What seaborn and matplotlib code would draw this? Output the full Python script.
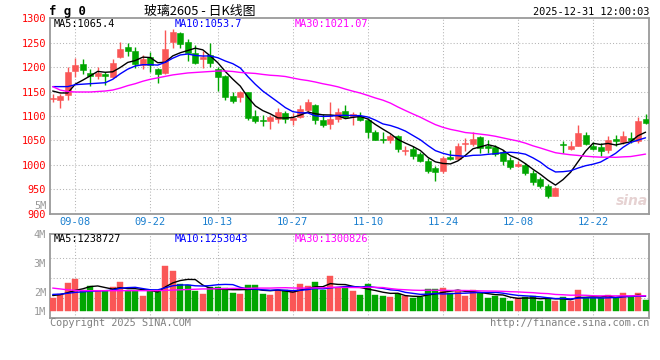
import numpy as np
import pandas as pd
import matplotlib
matplotlib.use("Agg")
import matplotlib.pyplot as plt
import seaborn as sns

# ---------------- data ----------------
opens = [1135, 1133, 1142, 1192, 1206, 1188, 1182, 1185, 1180, 1221,
         1241, 1233, 1204, 1221, 1196, 1187, 1252, 1269, 1252, 1228,
         1217, 1225, 1197, 1182, 1140, 1138, 1148, 1100, 1092, 1089,
         1094, 1106, 1091, 1098, 1113, 1123, 1092, 1084, 1094, 1110,
         1099, 1099, 1091, 1067, 1052, 1050, 1058, 1028, 1032, 1021,
         1008, 994, 988, 1016, 1012, 1043, 1043, 1057, 1039, 1036,
         1026, 1010, 997, 1000, 984, 971, 957, 936, 1043, 1033,
         1039, 1060, 1038, 1036, 1030, 1052, 1046, 1054, 1048, 1093]
highs = [1144, 1145, 1200, 1218, 1216, 1196, 1200, 1190, 1216, 1252,
         1250, 1242, 1225, 1231, 1198, 1277, 1278, 1271, 1258, 1245,
         1232, 1249, 1201, 1184, 1148, 1152, 1150, 1112, 1102, 1102,
         1116, 1110, 1106, 1123, 1135, 1124, 1104, 1128, 1117, 1123,
         1108, 1109, 1096, 1072, 1066, 1063, 1060, 1039, 1038, 1026,
         1014, 998, 1017, 1031, 1044, 1055, 1066, 1058, 1051, 1040,
         1030, 1015, 1008, 1003, 990, 975, 960, 954, 1048, 1048,
         1081, 1066, 1046, 1045, 1059, 1060, 1069, 1066, 1097, 1103]
lows = [1128, 1117, 1132, 1180, 1185, 1162, 1176, 1164, 1177, 1218,
        1223, 1199, 1196, 1190, 1168, 1185, 1240, 1240, 1213, 1207,
        1198, 1200, 1152, 1133, 1126, 1128, 1092, 1085, 1080, 1073,
        1085, 1085, 1082, 1095, 1109, 1084, 1077, 1074, 1087, 1095,
        1082, 1089, 1055, 1050, 1045, 1045, 1027, 1019, 1012, 1005,
        984, 966, 984, 1010, 1009, 1029, 1039, 1025, 1025, 1018,
        999, 991, 995, 978, 959, 952, 931, 935, 1023, 1030,
        1038, 1040, 1030, 1017, 1025, 1038, 1043, 1045, 1045, 1083]
closes = [1137, 1141, 1190, 1204, 1194, 1181, 1187, 1181, 1209, 1238,
          1233, 1206, 1216, 1205, 1185, 1238, 1271, 1248, 1228, 1209,
          1221, 1208, 1179, 1138, 1130, 1150, 1095, 1090, 1089, 1097,
          1109, 1093, 1096, 1114, 1128, 1091, 1082, 1094, 1107, 1098,
          1104, 1091, 1068, 1051, 1050, 1058, 1032, 1030, 1017, 1008,
          988, 986, 1014, 1012, 1039, 1045, 1053, 1034, 1034, 1021,
          1008, 995, 1002, 984, 964, 956, 935, 952, 1040, 1039,
          1064, 1043, 1033, 1028, 1050, 1048, 1059, 1050, 1090, 1086]

# moving-average values before enough bars exist in the window
ma5_head = [1151, 1147, 1147, 1165]
ma10_head = [1160, 1160, 1160, 1164, 1165, 1166, 1167, 1168, 1175]
ma30_head = [1160, 1153, 1150, 1149, 1149, 1149, 1150, 1151, 1153, 1157,
             1162, 1166, 1171, 1175, 1178, 1181, 1184, 1186, 1188, 1189,
             1190, 1191, 1192, 1192, 1191, 1189, 1188, 1187, 1185]

# volume in millions (on the chart's own volume axis)
volume = [1.80, 1.91, 2.30, 2.43, 2.08, 2.19, 2.02, 2.02, 2.16, 2.33,
          2.02, 2.02, 1.86, 2.02, 2.05, 2.89, 2.73, 2.27, 2.22, 2.02,
          1.93, 2.18, 2.16, 2.13, 1.97, 1.93, 2.22, 2.22, 1.93, 1.89,
          2.05, 2.05, 2.02, 2.27, 2.19, 2.33, 2.08, 2.56, 2.13, 2.16,
          2.02, 1.89, 2.27, 1.89, 1.86, 1.82, 1.91, 1.86, 1.78, 1.82,
          2.09, 2.09, 2.13, 1.97, 2.02, 1.86, 2.06, 1.97, 1.77, 1.85,
          1.80, 1.67, 1.78, 1.82, 1.85, 1.67, 1.75, 1.69, 1.82, 1.69,
          2.06, 1.78, 1.78, 1.78, 1.89, 1.78, 1.96, 1.82, 1.96, 1.73]
vma5_head = [1.87, 1.90, 1.97, 2.05]
vma10_head = [1.91, 1.92, 1.95, 1.98, 2.00, 2.02, 2.03, 2.04, 2.06]
vma30_head = [2.13, 2.10, 2.07, 2.05, 2.04, 2.04, 2.04, 2.04, 2.04, 2.04,
              2.04, 2.04, 2.04, 2.04, 2.04, 2.05, 2.06, 2.07, 2.08, 2.09,
              2.10, 2.10, 2.11, 2.11, 2.12, 2.12, 2.12, 2.13, 2.13]

date_labels = ["09-08", "09-22", "10-13", "10-27", "11-10", "11-24", "12-08", "12-22"]
date_index = [3, 13, 22, 32, 42, 52, 62, 72]
price_ticks = [900, 950, 1000, 1050, 1100, 1150, 1200, 1250, 1300]
vol_ticks = [2, 3, 4]
vol_tick_labels = ["2M", "3M", "4M"]

title_code = "f g 0"
title_text = "玻璃2605 - 日K线图"
timestamp = "2025-12-31 12:00:03"
ma_price_text = ["MA5:1065.4", "MA10:1053.7", "MA30:1021.07"]
ma_vol_text = ["MA5:1238727", "MA10:1253043", "MA30:1300826"]

# ---------------- style ----------------
sns.set_theme(style="white")
plt.rcParams["font.family"] = ["DejaVu Sans Mono", "Noto Sans CJK SC"]
RED = "#fa5656"
GREEN = "#00a600"
GRID = "#b4b4b4"
FRAME = "#9a9a9a"
MA_COLORS = ["#000000", "#0000ff", "#ff00ff"]
VOL_BASE = 1.333

W, H = 660, 360
fig = plt.figure(figsize=(W / 100, H / 100), dpi=100)
fig.patch.set_facecolor("white")


def px_axes(l, t, r, b):
    return [l / W, 1 - b / H, (r - l) / W, (b - t) / H]


def fx(x):
    return x / W


def fy(y):
    return 1 - y / H


ax_p = fig.add_axes(px_axes(50, 18.3, 649.3, 213.5))
ax_v = fig.add_axes(px_axes(50, 234.3, 649.3, 317.7))

idx = np.arange(len(closes))
o = np.array(opens, float)
c = np.array(closes, float)
h = np.array(highs, float)
lo = np.array(lows, float)
up = c >= o
cols = [RED if u else GREEN for u in up]


def moving(values, n, head):
    s = pd.Series(values, dtype=float).rolling(n).mean()
    s.iloc[:len(head)] = head
    return s.values


# ---- candles ----
ax_p.vlines(idx, lo, h, colors=cols, linewidth=1.0, zorder=2)
body_lo = np.minimum(o, c)
body_h = np.maximum(np.abs(c - o), 0.8)
ax_p.bar(idx, body_h, bottom=body_lo, width=0.8, color=cols,
         edgecolor=cols, linewidth=0.4, zorder=3)

for vals, n, head, col in zip([closes] * 3, [5, 10, 30],
                              [ma5_head, ma10_head, ma30_head], MA_COLORS):
    sns.lineplot(x=idx, y=moving(vals, n, head), ax=ax_p, color=col,
                 linewidth=1.0, legend=False, zorder=4)

# ---- volume ----
vol = np.array(volume)
ax_v.bar(idx, vol - VOL_BASE, bottom=VOL_BASE, width=0.8, color=cols,
         edgecolor=cols, linewidth=0.3, zorder=3)
for n, head, col in zip([5, 10, 30], [vma5_head, vma10_head, vma30_head], MA_COLORS):
    sns.lineplot(x=idx, y=moving(volume, n, head), ax=ax_v, color=col,
                 linewidth=1.0, legend=False, zorder=4)

# ---- axes styling ----
for ax in (ax_p, ax_v):
    ax.set_xlim(-0.36, 79.5)
    ax.set_xlabel("")
    ax.set_ylabel("")
    for s in ax.spines.values():
        s.set_color(FRAME)
        s.set_linewidth(1.3)
    ax.tick_params(axis="both", length=0, pad=2.9)
    ax.set_facecolor("white")
    for xi in date_index:
        ax.axvline(xi, color=GRID, linewidth=0.75, linestyle=(0, (1, 2)), zorder=1)

ax_p.set_ylim(900, 1300)
ax_p.set_yticks(price_ticks)
ax_p.set_yticklabels([str(t) for t in price_ticks], color="#ff0000", fontsize=7.4)
for t in price_ticks[1:-1]:
    ax_p.axhline(t, color=GRID, linewidth=0.75, linestyle=(0, (1, 2)), zorder=1)
ax_p.set_xticks([])

vlo, vhi = 1.1, 3.88
ax_v.set_ylim(vlo, vhi)
ax_v.set_yticks([VOL_BASE] + vol_ticks)
ax_v.set_yticklabels(["1M"] + vol_tick_labels, color="#999999", fontsize=7.4)
for frac in (0.25, 0.5, 0.75):
    ax_v.axhline(vlo + frac * (vhi - vlo), color=GRID, linewidth=0.75,
                 linestyle=(0, (1, 2)), zorder=1)
ax_v.set_xticks([])
ax_v.text(-0.006, 5, "5M", transform=ax_v.get_yaxis_transform(), ha="right",
          va="center", color="#999999", fontsize=7.4, clip_on=False)

# date labels between the panels
for xi, lab in zip(date_index, date_labels):
    ax_p.text(xi, -0.043, lab, transform=ax_p.get_xaxis_transform(), ha="center",
              va="center", color="#1a7fcf", fontsize=7.5, clip_on=False)

# ---- texts ----
fig.text(fx(49), fy(11), title_code, fontsize=8.8, fontweight="bold",
         ha="left", va="center", color="black")
fig.text(fx(200), fy(11), title_text, fontsize=9.3, ha="center", va="center",
         color="black", family=["Noto Sans CJK SC", "DejaVu Sans"])
fig.text(fx(649), fy(12), timestamp, fontsize=7.4, ha="right", va="center", color="black")

for txt, x, col in zip(ma_price_text, [54, 175, 295], MA_COLORS):
    fig.text(fx(x), fy(24), txt, fontsize=7.4, ha="left", va="center", color=col)
for txt, x, col in zip(ma_vol_text, [54, 175, 295], MA_COLORS):
    fig.text(fx(x), fy(238.5), txt, fontsize=7.4, ha="left", va="center", color=col)

fig.text(fx(50), fy(323.5), "Copyright 2025 SINA.COM", fontsize=7.4, ha="left",
         va="center", color="#808080")
fig.text(fx(649), fy(323.5), "http://finance.sina.com.cn", fontsize=7.4, ha="right",
         va="center", color="#808080")
fig.text(fx(632), fy(201), "sina", fontsize=10, fontstyle="italic", fontweight="bold",
         ha="center", va="center", color="#e6d2d2", family="DejaVu Sans")

fig.savefig("out.png", dpi=100, facecolor="white")
